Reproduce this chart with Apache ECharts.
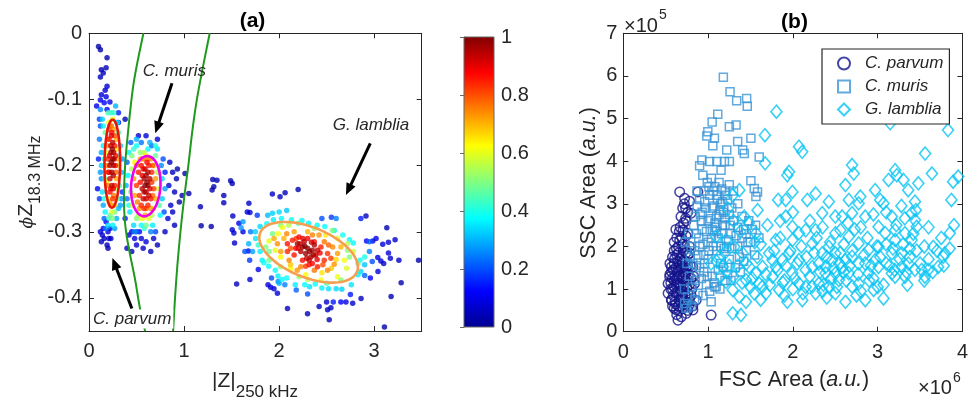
<!DOCTYPE html>
<html><head><meta charset="utf-8">
<script src="https://cdn.jsdelivr.net/npm/echarts@6.0.0/dist/echarts.min.js"></script>
<style>html,body{margin:0;padding:0;background:#fff}#c{width:971px;height:404px}</style>
</head><body><div id="c"></div>
<script>
// ---------- Panel (a) data: [|Z| 250kHz, phiZ 18.3MHz, normalized density] ----------
const parvumPts = [
[0.23,-0.18,0.96],[0.25,-0.19,0.97],[0.22,-0.2,0.95],[0.24,-0.21,0.96],[0.26,-0.2,0.94],[0.23,-0.17,0.93],[0.25,-0.165,0.94],[0.22,-0.22,0.92],[0.24,-0.23,0.93],[0.26,-0.18,0.95],
[0.21,-0.16,0.86],[0.27,-0.17,0.85],[0.2,-0.19,0.84],[0.28,-0.2,0.85],[0.22,-0.24,0.86],[0.27,-0.23,0.84],[0.24,-0.15,0.87],[0.25,-0.25,0.83],[0.21,-0.21,0.88],[0.28,-0.185,0.86],
[0.22,-0.14,0.74],[0.26,-0.145,0.72],[0.19,-0.17,0.73],[0.29,-0.16,0.7],[0.2,-0.23,0.75],[0.29,-0.22,0.71],[0.23,-0.26,0.72],[0.26,-0.245,0.76],[0.19,-0.2,0.74],[0.3,-0.19,0.7],
[0.21,-0.135,0.62],[0.25,-0.13,0.6],[0.18,-0.18,0.61],[0.31,-0.2,0.58],[0.2,-0.25,0.63],[0.28,-0.25,0.6],[0.24,-0.27,0.59],
[0.17,-0.15,0.48],[0.31,-0.15,0.46],[0.17,-0.22,0.5],[0.32,-0.23,0.44],[0.22,-0.275,0.47],[0.27,-0.27,0.5],[0.2,-0.12,0.45],[0.26,-0.12,0.43],
[0.14,-0.13,0.33],[0.28,-0.11,0.3],[0.15,-0.17,0.36],[0.33,-0.17,0.32],[0.13,-0.2,0.34],[0.34,-0.21,0.3],[0.14,-0.24,0.35],[0.33,-0.26,0.28],[0.17,-0.27,0.37],[0.29,-0.28,0.3],[0.2,-0.29,0.34],[0.25,-0.29,0.36],[0.12,-0.115,0.26],[0.11,-0.16,0.25],[0.15,-0.26,0.29],[0.31,-0.265,0.31],[0.13,-0.22,0.27],
[0.09,-0.235,0.12],[0.12,-0.14,0.2],[0.11,-0.25,0.18],[0.16,-0.28,0.22],[0.31,-0.12,0.15],[0.35,-0.24,0.17],
[0.1,-0.02,0.03],[0.12,-0.025,0.03],[0.19,-0.037,0.04],[0.13,-0.055,0.04],[0.18,-0.052,0.05],[0.12,-0.066,0.05],[0.15,-0.06,0.05],[0.17,-0.086,0.07],[0.19,-0.08,0.07],[0.13,-0.093,0.08],[0.18,-0.096,0.09],[0.12,-0.101,0.1],[0.22,-0.104,0.1],[0.08,-0.11,0.1],[0.16,-0.105,0.12],[0.19,-0.115,0.13],[0.38,-0.13,0.04],[0.31,-0.135,0.1],
[0.12,-0.3,0.08],[0.14,-0.305,0.07],[0.16,-0.31,0.06],[0.2,-0.3,0.09],[0.22,-0.295,0.1],[0.13,-0.315,0.05],[0.19,-0.32,0.05],[0.23,-0.31,0.06],[0.18,-0.285,0.12],[0.21,-0.31,0.07],[0.15,-0.295,0.1],[0.2,-0.325,0.04],
[0.235,-0.155,0.9],[0.245,-0.175,0.97],[0.235,-0.195,0.98],[0.255,-0.215,0.95],[0.215,-0.185,0.9],[0.265,-0.19,0.92],[0.23,-0.235,0.88],[0.255,-0.235,0.9],[0.21,-0.145,0.78],[0.27,-0.155,0.8],[0.2,-0.21,0.8],[0.285,-0.21,0.78],[0.215,-0.255,0.7],[0.265,-0.26,0.68],[0.235,-0.14,0.76],[0.195,-0.16,0.66],[0.29,-0.175,0.65],[0.185,-0.225,0.6],[0.295,-0.235,0.55],[0.245,-0.28,0.5],[0.16,-0.19,0.42],[0.32,-0.185,0.4],[0.16,-0.25,0.4],[0.3,-0.25,0.45],[0.21,-0.28,0.42],[0.23,-0.12,0.4],[0.3,-0.135,0.35],[0.15,-0.14,0.38],[0.13,-0.18,0.3],[0.12,-0.21,0.28],[0.35,-0.19,0.28],[0.34,-0.25,0.27],[0.18,-0.295,0.25],[0.27,-0.295,0.28],[0.11,-0.13,0.18],[0.1,-0.19,0.15]
];
const murisPts = [
[0.58,-0.22,0.96],[0.62,-0.23,0.97],[0.6,-0.24,0.95],[0.56,-0.235,0.93],[0.64,-0.22,0.94],[0.6,-0.215,0.96],[0.63,-0.245,0.92],[0.57,-0.25,0.91],[0.61,-0.225,0.98],[0.59,-0.205,0.92],
[0.52,-0.21,0.85],[0.66,-0.21,0.84],[0.55,-0.2,0.86],[0.65,-0.25,0.85],[0.53,-0.245,0.83],[0.62,-0.26,0.84],[0.68,-0.235,0.82],[0.5,-0.23,0.82],[0.58,-0.265,0.83],[0.61,-0.195,0.87],[0.55,-0.26,0.84],[0.67,-0.2,0.8],
[0.5,-0.2,0.74],[0.57,-0.19,0.76],[0.65,-0.19,0.73],[0.7,-0.22,0.72],[0.48,-0.245,0.71],[0.7,-0.25,0.7],[0.53,-0.265,0.73],[0.65,-0.265,0.72],[0.59,-0.275,0.7],[0.47,-0.22,0.72],
[0.48,-0.195,0.62],[0.6,-0.185,0.63],[0.69,-0.2,0.61],[0.73,-0.235,0.58],[0.46,-0.26,0.6],[0.68,-0.265,0.6],[0.56,-0.28,0.62],[0.63,-0.28,0.59],
[0.45,-0.185,0.5],[0.54,-0.18,0.52],[0.7,-0.185,0.48],[0.74,-0.21,0.47],[0.44,-0.24,0.49],[0.74,-0.26,0.46],[0.5,-0.28,0.5],[0.6,-0.29,0.48],
[0.42,-0.18,0.36],[0.5,-0.17,0.38],[0.62,-0.175,0.37],[0.72,-0.175,0.35],[0.77,-0.22,0.34],[0.41,-0.215,0.36],[0.43,-0.27,0.35],[0.77,-0.25,0.33],[0.55,-0.29,0.38],[0.67,-0.29,0.36],[0.47,-0.29,0.34],
[0.44,-0.165,0.22],[0.55,-0.165,0.24],[0.66,-0.17,0.23],[0.78,-0.19,0.2],[0.4,-0.195,0.22],[0.4,-0.25,0.24],[0.79,-0.27,0.2],[0.5,-0.3,0.21],[0.7,-0.3,0.19],[0.76,-0.2,0.26],
[0.52,-0.155,0.07],[0.6,-0.155,0.08],[0.72,-0.16,0.07],[0.88,-0.21,0.05],[0.9,-0.24,0.05],[0.92,-0.22,0.04],[0.84,-0.23,0.08],[0.86,-0.26,0.07],[0.88,-0.27,0.06],[0.83,-0.28,0.08],[0.9,-0.29,0.05],[0.45,-0.3,0.1],[0.48,-0.31,0.09],[0.5,-0.32,0.07],[0.55,-0.31,0.08],[0.6,-0.315,0.08],[0.65,-0.33,0.05],[0.45,-0.33,0.05],[0.4,-0.325,0.06],[0.53,-0.3,0.12],[0.68,-0.31,0.07],[0.72,-0.32,0.05],[0.42,-0.305,0.08],[0.57,-0.325,0.06],[0.8,-0.3,0.06],[0.93,-0.205,0.04],[0.95,-0.255,0.03],[0.85,-0.195,0.06],[0.98,-0.245,0.03],[1.01,-0.212,0.03],[1.05,-0.242,0.03],
[0.59,-0.23,0.99],[0.6,-0.25,0.93],[0.62,-0.21,0.95],[0.56,-0.215,0.9],[0.64,-0.235,0.9],[0.58,-0.24,0.95],[0.54,-0.225,0.86],[0.66,-0.225,0.83],[0.57,-0.205,0.88],[0.63,-0.2,0.85],[0.51,-0.255,0.75],[0.67,-0.245,0.77],[0.54,-0.19,0.7],[0.62,-0.19,0.74],[0.6,-0.265,0.78],[0.45,-0.205,0.55],[0.72,-0.21,0.56],[0.52,-0.275,0.55],[0.66,-0.275,0.55],[0.58,-0.18,0.55],[0.47,-0.175,0.42],[0.7,-0.17,0.4],[0.42,-0.26,0.4],[0.75,-0.275,0.38],[0.58,-0.295,0.42],[0.64,-0.165,0.3],[0.5,-0.16,0.3],[0.39,-0.23,0.3],[0.8,-0.235,0.28],[0.48,-0.3,0.25],[0.65,-0.3,0.25],[0.8,-0.21,0.15],[0.38,-0.28,0.15]
];
const lambliaPts = [
[2.193,-0.318,0.96],[2.246,-0.323,0.97],[2.3,-0.325,0.98],[2.35,-0.328,0.96],[2.28,-0.333,0.97],[2.334,-0.338,0.95],[2.386,-0.335,0.94],[2.228,-0.33,0.95],[2.316,-0.343,0.93],[2.404,-0.328,0.93],[2.264,-0.315,0.94],[2.37,-0.32,0.95],
[2.087,-0.318,0.86],[2.14,-0.313,0.85],[2.21,-0.308,0.87],[2.3,-0.31,0.88],[2.37,-0.315,0.86],[2.44,-0.323,0.85],[2.51,-0.333,0.83],[2.475,-0.343,0.84],[2.404,-0.353,0.85],[2.316,-0.35,0.86],[2.246,-0.343,0.87],[2.158,-0.335,0.86],[2.087,-0.33,0.84],[2.175,-0.325,0.88],[2.545,-0.34,0.82],[2.35,-0.348,0.87],
[1.982,-0.318,0.73],[1.947,-0.31,0.71],[2.08,-0.303,0.74],[2.158,-0.3,0.72],[2.35,-0.305,0.75],[2.42,-0.305,0.73],[2.563,-0.323,0.74],[2.615,-0.333,0.72],[2.58,-0.349,0.73],[2.51,-0.358,0.74],[2.37,-0.358,0.76],[2.228,-0.353,0.75],[2.105,-0.343,0.74],[2.017,-0.33,0.72],[2.19,-0.358,0.73],[2.475,-0.315,0.76],[2.65,-0.323,0.7],
[2.035,-0.2935,0.61],[1.894,-0.314,0.6],[1.99,-0.303,0.62],[2.615,-0.31,0.6],[2.686,-0.343,0.61],[2.71,-0.355,0.59],[2.615,-0.368,0.61],[2.44,-0.373,0.62],[2.28,-0.365,0.63],[2.12,-0.356,0.62],[2.017,-0.338,0.63],[2.49,-0.305,0.64],[2.78,-0.33,0.58],
[1.86,-0.323,0.5],[1.894,-0.33,0.49],[2.72,-0.328,0.51],[2.74,-0.338,0.5],[2.83,-0.348,0.47],[2.65,-0.373,0.5],[2.21,-0.368,0.52],[2.017,-0.353,0.51],[1.894,-0.343,0.48],[1.93,-0.303,0.49],[2.017,-0.29,0.5],[2.37,-0.295,0.52],[2.56,-0.298,0.5],
[1.753,-0.31,0.35],[1.822,-0.343,0.36],[1.84,-0.347,0.38],[1.89,-0.352,0.37],[1.96,-0.358,0.38],[1.988,-0.367,0.36],[2.03,-0.372,0.37],[2.08,-0.37,0.38],[2.17,-0.38,0.36],[2.27,-0.38,0.37],[2.32,-0.383,0.35],[2.38,-0.379,0.38],[2.45,-0.385,0.36],[2.52,-0.386,0.35],[2.6,-0.386,0.34],[2.66,-0.387,0.33],[2.76,-0.38,0.35],[2.83,-0.365,0.36],[2.86,-0.36,0.34],[2.9,-0.35,0.32],[2.85,-0.343,0.38],[2.78,-0.317,0.37],[2.74,-0.312,0.38],[2.67,-0.305,0.39],[2.58,-0.298,0.36],[2.48,-0.292,0.38],[2.4,-0.29,0.37],[2.31,-0.287,0.36],[2.24,-0.283,0.37],[2.13,-0.282,0.38],[2.025,-0.28,0.37],[1.94,-0.282,0.36],[1.87,-0.288,0.38],[1.8,-0.292,0.34],[1.75,-0.3,0.33],[1.68,-0.318,0.3],[1.8,-0.33,0.36],[1.93,-0.272,0.33],[2.0,-0.27,0.34],[2.08,-0.268,0.32],[1.88,-0.275,0.31],[1.62,-0.285,0.28],[1.6,-0.294,0.27],
[2.45,-0.28,0.2],[2.55,-0.278,0.18],[2.86,-0.28,0.15],[2.9,-0.366,0.22],[2.65,-0.406,0.12],[2.57,-0.406,0.15],[2.3,-0.394,0.2],[2.18,-0.388,0.22],[2.06,-0.38,0.25],[1.99,-0.375,0.26],[1.92,-0.37,0.2],[1.69,-0.343,0.18],[1.64,-0.33,0.2],[1.7,-0.3,0.24],[1.77,-0.275,0.18],[2.95,-0.33,0.25],[2.98,-0.345,0.2],[2.75,-0.395,0.15],
[2.27,-0.322,0.99],[2.32,-0.33,0.98],[2.36,-0.335,0.96],[2.22,-0.318,0.93],[2.29,-0.34,0.94],[2.4,-0.342,0.9],[2.25,-0.31,0.9],[2.34,-0.316,0.92],[2.2,-0.325,0.9],[2.43,-0.332,0.88],[2.12,-0.325,0.8],[2.18,-0.31,0.82],[2.46,-0.35,0.8],[2.28,-0.352,0.82],[2.52,-0.32,0.78],[2.05,-0.31,0.7],[2.12,-0.35,0.68],[2.55,-0.355,0.68],[2.6,-0.342,0.66],[2.3,-0.3,0.7],[2.45,-0.362,0.65],[1.96,-0.328,0.6],[2.72,-0.318,0.55],[2.3,-0.372,0.55],[2.1,-0.29,0.55],[1.78,-0.32,0.42],[2.9,-0.338,0.4],[2.5,-0.378,0.45],[2.2,-0.287,0.45],[1.72,-0.33,0.28],[2.95,-0.315,0.22],[2.6,-0.28,0.25],[2.0,-0.378,0.3]
];
const sparsePts = [
[1.302,-0.221,0.04],[1.346,-0.222,0.04],[1.49,-0.223,0.04],[1.507,-0.227,0.04],[1.313,-0.232,0.04],[1.295,-0.237,0.04],[1.418,-0.245,0.04],[1.418,-0.256,0.05],[1.172,-0.262,0.04],[1.18,-0.291,0.03],[1.286,-0.292,0.03],
[1.929,-0.243,0.06],[2.01,-0.247,0.06],[2.063,-0.241,0.05],[2.2,-0.236,0.04],[1.682,-0.257,0.06],[1.665,-0.27,0.08],[1.693,-0.271,0.08],[1.513,-0.276,0.06],[1.507,-0.297,0.07],[1.524,-0.302,0.08],[1.531,-0.317,0.07],
[1.553,-0.379,0.05],[1.693,-0.372,0.07],[1.781,-0.357,0.1],[1.883,-0.38,0.09],[1.911,-0.384,0.09],[1.946,-0.386,0.09],[1.982,-0.393,0.08],[2.088,-0.416,0.05],[2.299,-0.424,0.04],[2.421,-0.413,0.06],[2.499,-0.406,0.07],[2.51,-0.418,0.06],[2.545,-0.415,0.05],[2.527,-0.433,0.04],[2.703,-0.406,0.08],[2.774,-0.408,0.07],[2.862,-0.401,0.06],
[2.914,-0.276,0.05],[3.108,-0.444,0.03],[3.178,-0.398,0.04],[3.284,-0.377,0.04],[3.467,-0.343,0.03],[3.133,-0.294,0.04],
[2.92,-0.314,0.12],[2.985,-0.314,0.1],[3.02,-0.31,0.1],[3.09,-0.319,0.08],[3.15,-0.316,0.08],[3.22,-0.312,0.07],[3.038,-0.339,0.09],[3.07,-0.344,0.08],[3.1,-0.348,0.07],[3.17,-0.34,0.07],[3.26,-0.343,0.06],[3.04,-0.36,0.09],[2.96,-0.37,0.12],[3.15,-0.332,0.08],
[1.577,-0.287,0.1],[1.62,-0.3,0.09],[1.676,-0.329,0.1]
];
// green separation curves [x, y]
const greenLeft = [[0.573,0],[0.47,-0.075],[0.41,-0.15],[0.38,-0.2],[0.368,-0.25],[0.375,-0.28],[0.395,-0.305],[0.43,-0.333],[0.486,-0.373],[0.535,-0.415],[0.59,-0.45]];
const greenRight = [[1.27,0],[1.2,-0.05],[1.135,-0.1],[1.085,-0.15],[1.045,-0.2],[1.0,-0.25],[0.962,-0.3],[0.93,-0.35],[0.905,-0.4],[0.885,-0.45]];
// ellipses: [cx, cy, axis1 dx, axis1 dy, axis2 dx, axis2 dy]
const ellipseParams = [
[0.245,-0.197,0.004,0.0666,0.082,0],
[0.597,-0.231,0.026,0.0454,0.153,-0.003],
[2.31,-0.331,0.509,-0.0295,-0.099,-0.0351]
];
const ellipseColors = ['#e8150a','#ee00ee','#f5a050'];
// arrows: [tail x, tail y, head x, head y]
const arrows = [[0.873,-0.0756,0.697,-0.151],[2.959,-0.1664,2.703,-0.2446],[0.451,-0.416,0.246,-0.3395]];
const annotPos = [[0.898,-0.058],[2.967,-0.139],[0.454,-0.432]];
const annotText = ['C. muris','G. lamblia','C. parvum'];
const aXTicks = [0,1,2,3];
const aYTicks = [0,-0.1,-0.2,-0.3,-0.4];

// ---------- Panel (b) data: [FSC x1e6, SSC x1e5] ----------
const bParvum = [[0.665,3.28],[0.723,3.13],[0.782,3.06],[0.735,2.89],[0.735,2.66],[0.704,2.38],[0.665,2.15],[0.626,1.95],[0.606,1.72],[0.567,1.52],[0.547,1.29],[0.528,1.13],[0.528,0.9],[0.567,0.74],[0.626,0.51],[0.645,0.27],[0.684,0.35],[0.743,0.43],[1.036,0.39],[0.821,0.51],[0.88,3.28],[0.8,2.78],[0.762,2.31],[0.782,1.84],[0.821,1.52],[0.84,1.13],[0.86,0.74],[0.58,1.0],[0.6,1.2],[0.62,0.9],[0.64,1.4],[0.66,1.1],[0.68,0.8],[0.7,1.3],[0.72,1.0],[0.74,1.5],[0.6,1.6],[0.63,1.8],[0.67,1.7],[0.71,1.9],[0.65,2.0],[0.69,2.2],[0.73,1.2],[0.76,0.9],[0.78,1.1],[0.57,1.4],[0.61,0.7],[0.65,0.6],[0.7,0.55],[0.75,0.7],[0.8,0.85],[0.77,1.35],[0.62,1.1],[0.66,1.3],[0.59,0.85],[0.73,1.65],[0.68,1.5],[0.63,0.4],[0.69,0.95],[0.8,1.25],[0.82,0.6],[0.74,2.6],[0.71,2.55],[0.68,2.7],[0.56,1.15],[0.6,0.55],[0.55,1.6],[0.58,1.75],[0.62,1.5],[0.66,0.75],[0.7,0.7],[0.64,1.15],[0.67,0.95],[0.71,1.1],[0.75,1.05],[0.72,1.4],[0.69,1.6],[0.76,1.8],[0.78,2.0],[0.58,1.25],[0.6,1.05],[0.63,1.25],[0.65,1.45],[0.69,1.25],[0.73,0.85],[0.77,0.6],[0.66,2.35],[0.7,2.05],[0.6,2.1],[0.74,2.25],
[0.56,1.0],[0.57,0.75],[0.59,1.45],[0.61,1.3],[0.62,0.65],[0.63,2.2],[0.64,1.65],[0.64,0.95],[0.65,1.85],[0.66,0.5],[0.67,1.55],[0.67,2.45],[0.68,1.05],[0.69,1.75],[0.7,0.85],[0.71,1.5],[0.72,2.0],[0.72,0.65],[0.73,1.35],[0.74,1.85],[0.75,1.25],[0.76,1.55],[0.76,0.5],[0.78,0.75],[0.79,1.55],[0.81,1.0],[0.83,1.3],[0.55,1.35],[0.58,0.6],[0.6,1.9],[0.62,2.4],[0.7,2.9],[0.72,3.0],[0.76,2.8]];
const bMuris = [[1.18,5.97],[1.259,5.63],[1.337,5.42],[1.455,5.47],[1.462,5.29],[1.114,5.1],[1.048,4.92],[0.997,4.69],[0.985,4.59],[1.251,4.81],[1.33,4.85],[1.075,4.54],[1.056,4.36],[1.349,4.46],[1.408,4.26],[1.505,4.54],[1.427,4.18],[1.22,4.26],[1.603,4.1],[0.927,4.03],[0.9,3.89],[1.017,3.99],[1.103,3.99],[1.193,3.99],[1.251,3.99],[1.153,3.79],[0.938,3.67],[1.505,3.54],[1.544,3.36],[1.583,3.28],[1.564,3.17],[1.036,0.7],[1.095,1.06],[0.723,0.66],
[0.9,1.5],[0.95,1.8],[1.0,2.1],[1.05,2.4],[1.1,2.7],[1.15,3.0],[1.2,3.3],[0.92,2.6],[0.97,2.9],[1.02,3.2],[1.08,3.4],[1.12,2.2],[1.17,2.5],[1.22,2.0],[1.27,2.3],[1.3,2.6],[1.25,1.7],[1.35,2.0],[1.4,2.2],[1.45,1.9],[0.85,1.2],[0.88,0.9],[0.82,1.6],[0.8,2.0],[0.78,1.3],[0.76,0.8],[0.74,0.55],[0.8,0.6],[0.86,2.3],[0.9,2.0],[0.95,1.4],[1.0,1.7],[1.05,1.3],[1.1,1.9],[1.15,1.6],[1.2,1.2],[1.0,2.6],[1.05,2.9],[1.1,3.2],[1.13,3.5],[1.18,2.8],[1.23,3.1],[1.28,2.9],[0.95,3.3],[0.9,3.1],[0.85,2.7],[1.32,1.5],[1.38,1.4],[1.42,2.4],[1.5,2.1],[1.55,1.8],[1.6,2.2],[0.98,1.1],[1.02,0.95],[1.08,1.05],[1.14,1.0],[0.93,2.4],[1.06,2.0],[0.88,1.8],[1.3,3.3],[1.25,3.45],[1.16,3.35],[0.72,1.0],[0.75,1.6],[0.73,2.1],[0.83,2.5],[0.99,3.5],[1.04,3.6],[0.87,3.3],[0.93,2.8],[1.08,2.55],[1.14,2.85],[1.2,2.65],[1.26,2.5],[1.35,2.45],[1.45,2.3],[1.52,2.4],
[0.92,1.25],[0.96,1.6],[1.01,1.9],[1.04,2.2],[1.09,2.45],[1.13,2.75],[1.17,3.05],[1.21,3.2],[0.89,2.2],[0.94,2.05],[0.98,2.35],[1.03,2.65],[1.07,2.95],[1.11,3.1],[1.16,2.3],[1.19,1.95],[1.24,2.15],[1.28,1.95],[1.33,2.25],[1.37,1.75],[1.42,1.65],[1.47,2.1],[0.86,1.55],[0.84,1.9],[0.87,2.95],[0.91,2.75],[0.96,3.05],[1.01,3.4],[1.06,3.3],[1.12,1.45],[1.07,1.15],[1.18,1.5],[1.23,1.35],[1.27,1.2],[0.94,0.85],[0.99,1.3],[0.81,1.05],[0.79,1.75],[0.77,2.3],[0.84,0.75],[1.2,2.5],[1.15,2.0],[1.1,2.35],[1.25,2.75],[1.35,3.0],[1.4,2.7],[1.48,2.6],[1.56,2.5]];
const bLamblia = [[1.806,5.16],[1.67,4.61],[2.072,4.34],[2.11,4.22],[1.673,3.95],[1.955,3.75],[1.935,3.67],[2.698,3.91],[2.718,3.71],[2.62,3.44],[3.148,4.89],[3.83,4.73],[3.56,4.18],[3.64,3.71],[3.95,3.64],[3.89,3.52],[3.48,3.48],[3.36,3.32],[3.206,3.79],[3.226,3.67],[3.128,3.56],[3.304,3.56],[2.97,3.32],[2.796,3.17],[3.03,3.09],[3.069,3.01],[3.44,3.05],[3.87,3.09],[3.32,2.66],[3.44,2.62],[3.46,2.46],[3.4,2.78],[2.424,3.05],[2.268,3.24],[2.17,3.09],[1.994,3.28],[1.916,3.09],[1.826,3.09],[1.584,2.85],[1.427,2.7],[1.564,2.31],[1.369,3.32],[1.29,3.2],[1.232,2.89],[1.095,2.23],[1.134,1.76],[1.036,1.6],[1.173,1.52],[1.212,1.17],[1.29,0.98],[1.369,0.82],[1.29,0.43],[1.388,0.39],[1.447,0.7],[1.544,0.9],[1.642,1.06],[1.76,1.29],[1.838,0.98],[1.935,0.7],[2.111,0.74],[2.268,0.9],[2.307,1.13],[2.502,1.37],[2.62,0.7],[2.854,0.74],[3.069,0.78],[2.952,0.98],[2.698,1.06],[2.502,0.9],[2.424,1.99],[2.502,2.31],[2.561,2.38],[2.659,2.23],[2.776,2.07],[2.893,1.92],[3.01,1.99],[3.089,2.31],[3.206,2.15],[3.284,1.84],[3.362,1.6],[3.44,1.45],[3.558,1.29],[3.597,1.45],[3.656,1.99],[3.773,1.76],[3.851,2.31],[3.792,1.84],[3.519,1.45],[3.167,1.37],[3.206,1.29],[3.323,1.29],[3.011,1.52],[2.854,1.6],[2.698,1.76],[2.58,1.52],[2.463,1.68],[2.346,1.84],[2.229,2.07],[2.151,2.38],[2.072,2.31],[1.994,2.46],[1.916,2.7],[1.799,2.15],[1.72,1.84],[1.642,1.52],[1.564,1.37],[1.486,1.52],[1.408,1.84],[1.31,1.99],[1.212,2.15],[1.447,1.21],[1.603,1.13],[1.681,0.9],[1.799,1.52],[1.994,1.37],[2.072,1.13],[2.151,1.45],[2.229,1.06],[2.385,1.37],[2.424,1.06],[2.541,1.21],[2.659,1.37],[2.776,1.13],[2.893,1.37],[2.971,1.68],[2.776,1.6],[2.62,1.68],[2.502,1.84],[2.385,1.52],[2.307,1.6],[2.229,1.52],[2.072,1.68],[1.955,1.84],[1.877,1.68],[1.76,1.68],[1.994,2.15],[2.698,2.78],[2.776,3.01],[2.854,2.7],[2.659,3.09],[2.58,2.7],[2.346,2.78],[2.268,2.38],[3.01,2.46],[3.167,2.7],[3.323,2.31],[3.401,2.15],[3.206,2.38],[3.714,1.52],[3.284,1.52],[3.167,1.84],[1.3,1.3],[1.5,1.05],[1.9,1.2],[2.45,1.25],[2.55,1.6],[2.9,1.2],[3.1,1.6],[3.38,1.95],[2.0,1.0],[2.35,0.95],
[1.45,1.6],[1.52,1.25],[1.58,1.75],[1.62,2.05],[1.68,1.35],[1.73,1.1],[1.78,1.9],[1.82,1.45],[1.85,2.2],[1.88,1.15],[1.92,1.55],[1.97,1.9],[2.02,1.25],[2.05,1.6],[2.1,2.0],[2.12,0.9],[2.16,1.75],[2.2,1.3],[2.25,1.85],[2.28,2.2],[2.32,1.4],[2.36,1.1],[2.4,1.75],[2.44,2.1],[2.48,1.5],[2.52,1.05],[2.56,1.85],[2.6,2.05],[2.63,1.2],[2.67,1.55],[2.7,1.9],[2.73,2.4],[2.77,1.35],[2.8,0.95],[2.84,1.8],[2.88,2.2],[2.92,1.55],[2.95,1.25],[2.99,2.0],[3.03,1.75],[3.07,1.1],[3.1,2.05],[3.14,1.55],[3.18,1.95],[3.22,2.5],[3.26,1.7],[3.3,2.05],[3.34,1.4],[3.38,1.75],[3.42,2.3],[3.46,1.9],[3.5,1.6],[3.55,2.0],[3.6,1.7],[3.65,1.4],[3.7,1.9],[3.78,1.55],[3.85,1.95],[1.35,1.55],[1.4,1.15],[1.38,2.35],[1.25,1.55],[1.2,1.85],[1.15,1.3],[1.1,1.65],[1.3,2.6],[1.48,2.55],[1.55,2.1],[1.7,2.5],[1.85,2.6],[2.0,2.8],[2.2,2.6],[2.35,2.45],[2.5,2.7],[2.65,2.55],[2.8,2.45],[2.95,2.75],[3.1,2.8],[3.28,2.95],[3.45,2.85],[3.6,2.45],[3.75,2.2],[3.9,2.5],[1.9,0.85],[2.4,0.8],[2.75,0.85],[3.0,1.05],[3.35,1.1],[3.55,1.2],[1.62,0.75],[2.15,1.05],[2.6,1.4],[3.2,1.45]];
const bXTicks = [0,1,2,3,4];
const bYTicks = [0,1,2,3,4,5,6,7];

// ---------- rendering ----------
const FONT = "'Liberation Sans', Arial, Helvetica, sans-serif";
const TXT = '#262626';
const JET = ['#00008f','#0000ff','#0080ff','#00ffff','#80ff80','#ffff00','#ff8000','#ff0000','#800000'];
const C_PARVUM = '#14148c', C_MURIS = '#3a95d6', C_LAMBLIA = '#08c4f4';

const aAll = parvumPts.concat(murisPts, lambliaPts, sparsePts).slice().sort((p, q) => p[2] - q[2]);

function boxAxis(extra) {
  return Object.assign({
    type: 'value',
    axisLine: {show: true, onZero: false, lineStyle: {color: TXT, width: 1}},
    axisTick: {show: true, inside: true, length: 5, lineStyle: {color: TXT, width: 1}},
    splitLine: {show: false},
    axisLabel: {show: true, color: TXT, fontSize: 20, fontFamily: FONT},
    name: ''
  }, extra);
}
function mirror(base, pos) {
  const o = JSON.parse(JSON.stringify(base));
  o.position = pos;
  o.axisLabel = Object.assign({}, o.axisLabel, {show: false});
  return o;
}

const axA = boxAxis({gridIndex: 0, min: 0, max: 3.5, position: 'bottom',
  axisLabel: {color: TXT, fontSize: 20, fontFamily: FONT, margin: 10, customValues: aXTicks},
  axisTick: {inside: true, length: 5, lineStyle: {color: TXT}, customValues: aXTicks}});
const ayA = boxAxis({gridIndex: 0, min: -0.45, max: 0, position: 'left',
  axisLabel: {color: TXT, fontSize: 20, fontFamily: FONT, margin: 7, customValues: aYTicks},
  axisTick: {inside: true, length: 5, lineStyle: {color: TXT}, customValues: aYTicks}});
const axB = boxAxis({gridIndex: 1, min: 0, max: 4, interval: 1, position: 'bottom',
  axisLabel: {color: TXT, fontSize: 20, fontFamily: FONT, margin: 11, customValues: bXTicks},
  axisTick: {inside: true, length: 5, lineStyle: {color: TXT}, customValues: bXTicks}});
const ayB = boxAxis({gridIndex: 1, min: 0, max: 7, interval: 1, position: 'left',
  axisLabel: {color: TXT, fontSize: 20, fontFamily: FONT, margin: 6, customValues: bYTicks},
  axisTick: {inside: true, length: 5, lineStyle: {color: TXT}, customValues: bYTicks}});

const option = {
  animation: false,
  backgroundColor: '#fff',
  grid: [
    {left: 89, top: 33.3, width: 332.7, height: 297.7},
    {left: 623.3, top: 33.3, width: 341, height: 298.4},
    {left: 464, top: 37, width: 30, height: 290}
  ],
  xAxis: [axA, mirror(axA, 'top'), axB, mirror(axB, 'top'),
    {type: 'value', gridIndex: 2, min: 0, max: 1, show: false}],
  yAxis: [ayA, mirror(ayA, 'right'), ayB, mirror(ayB, 'right'),
    {type: 'value', gridIndex: 2, min: 0, max: 1, interval: 0.2, position: 'right',
     axisLine: {show: true, lineStyle: {color: '#666', width: 1}},
     axisTick: {show: true, inside: true, length: 4, lineStyle: {color: '#666'}},
     splitLine: {show: false},
     axisLabel: {color: TXT, fontSize: 20, fontFamily: FONT, margin: 7}}],
  visualMap: [{type: 'continuous', show: false, seriesIndex: 0, dimension: 2, min: 0, max: 1, inRange: {color: JET}}],
  legend: {
    orient: 'vertical', left: 822, top: 49, padding: [6, 6, 6, 15], itemGap: 6,
    itemWidth: 12, itemHeight: 12, borderColor: TXT, borderWidth: 1.2, backgroundColor: '#fff',
    selectedMode: false,
    textStyle: {fontSize: 17, fontStyle: 'italic', color: TXT, fontFamily: FONT, padding: [0, 0, 0, 10]},
    data: [{name: 'C. parvum', icon: 'circle'}, {name: 'C. muris', icon: 'rect'}, {name: 'G. lamblia', icon: 'diamond'}]
  },
  series: [
    {type: 'scatter', xAxisIndex: 0, yAxisIndex: 0, data: aAll, symbolSize: 5.5, z: 2, silent: true},
    {type: 'line', xAxisIndex: 0, yAxisIndex: 0, data: greenLeft, smooth: 0.3, showSymbol: false, symbol: 'none',
     lineStyle: {color: '#1f9a1f', width: 2}, z: 3, silent: true},
    {type: 'line', xAxisIndex: 0, yAxisIndex: 0, data: greenRight, smooth: 0.3, showSymbol: false, symbol: 'none',
     lineStyle: {color: '#1f9a1f', width: 2}, z: 3, silent: true},
    {type: 'custom', xAxisIndex: 0, yAxisIndex: 0, data: ellipseParams, z: 4, silent: true,
     encode: {x: 0, y: 1},
     renderItem: function (params, api) {
       const v = [0,1,2,3,4,5].map(i => api.value(i));
       const pts = [];
       for (let k = 0; k <= 96; k++) {
         const t = 2 * Math.PI * k / 96;
         pts.push(api.coord([v[0] + v[2] * Math.cos(t) + v[4] * Math.sin(t), v[1] + v[3] * Math.cos(t) + v[5] * Math.sin(t)]));
       }
       return {type: 'polyline', shape: {points: pts}, style: {fill: 'none', stroke: ellipseColors[params.dataIndex], lineWidth: 2.6}};
     }},
    {type: 'custom', xAxisIndex: 0, yAxisIndex: 0, data: arrows, z: 5, silent: true,
     encode: {x: [0, 2], y: [1, 3]},
     renderItem: function (params, api) {
       const p1 = api.coord([api.value(0), api.value(1)]);
       const p2 = api.coord([api.value(2), api.value(3)]);
       const dx = p2[0] - p1[0], dy = p2[1] - p1[1];
       const L = Math.sqrt(dx * dx + dy * dy), ux = dx / L, uy = dy / L;
       const hl = 12, hw = 5;
       const bx = p2[0] - ux * hl, by = p2[1] - uy * hl;
       return {type: 'group', children: [
         {type: 'line', shape: {x1: p1[0], y1: p1[1], x2: bx + ux * 2, y2: by + uy * 2}, style: {stroke: '#000', lineWidth: 3}},
         {type: 'polygon', shape: {points: [[p2[0], p2[1]], [bx - uy * hw, by + ux * hw], [bx + uy * hw, by - ux * hw]]}, style: {fill: '#000'}}
       ]};
     }},
    {type: 'custom', xAxisIndex: 0, yAxisIndex: 0, data: annotPos, z: 6, silent: true,
     encode: {x: 0, y: 1},
     renderItem: function (params, api) {
       const p = api.coord([api.value(0), api.value(1)]);
       const i = params.dataIndex;
       return {type: 'text', x: p[0], y: p[1], style: {
         text: annotText[i], fontSize: 17, fontStyle: 'italic', fontFamily: FONT, fill: TXT,
         align: 'center', verticalAlign: 'middle',
         backgroundColor: i === 2 ? '#fff' : 'transparent', padding: [1, 2, 1, 2]}};
     }},
    {name: 'C. parvum', type: 'scatter', xAxisIndex: 2, yAxisIndex: 2, data: bParvum, symbol: 'circle', symbolSize: 9.5,
     itemStyle: {color: 'transparent', borderColor: C_PARVUM, borderWidth: 1.5}, z: 2, silent: true},
    {name: 'C. muris', type: 'scatter', xAxisIndex: 2, yAxisIndex: 2, data: bMuris, symbol: 'rect', symbolSize: 8,
     itemStyle: {color: 'transparent', borderColor: C_MURIS, borderWidth: 1.5}, z: 2, silent: true},
    {name: 'G. lamblia', type: 'scatter', xAxisIndex: 2, yAxisIndex: 2, data: bLamblia, symbol: 'diamond', symbolSize: [11, 13],
     itemStyle: {color: 'transparent', borderColor: C_LAMBLIA, borderWidth: 1.6}, z: 2, silent: true},
    {type: 'custom', xAxisIndex: 4, yAxisIndex: 4, data: [[0, 0, 1, 1]], silent: true, z: 2,
     encode: {x: [0, 2], y: [1, 3]},
     renderItem: function (params, api) {
       const a = api.coord([api.value(0), api.value(1)]);
       const b = api.coord([api.value(2), api.value(3)]);
       const stops = JET.map((c, i) => ({offset: i / (JET.length - 1), color: c}));
       return {type: 'rect', shape: {x: a[0], y: b[1], width: b[0] - a[0], height: a[1] - b[1]},
         style: {fill: new echarts.graphic.LinearGradient(0, 1, 0, 0, stops), stroke: '#666', lineWidth: 1}};
     }}
  ],
  graphic: [
    {type: 'text', x: 252.5, y: 21.7, style: {text: '(a)', fontSize: 21, fontWeight: 'bold', fontFamily: FONT, fill: '#000', align: 'center', verticalAlign: 'middle'}},
    {type: 'text', x: 794.5, y: 22, style: {text: '(b)', fontSize: 21, fontWeight: 'bold', fontFamily: FONT, fill: '#000', align: 'center', verticalAlign: 'middle'}},
    {type: 'text', x: 255, y: 371, style: {text: '{m||Z|}{s|250 kHz}', fill: TXT, align: 'center', verticalAlign: 'top',
      rich: {m: {fontSize: 21, lineHeight: 24, verticalAlign: 'top', fontFamily: FONT, fill: TXT},
             s: {fontSize: 17, lineHeight: 17, padding: [13, 0, 0, 0], verticalAlign: 'top', fontFamily: FONT, fill: TXT}}}},
    {type: 'text', x: 16, y: 182, rotation: Math.PI / 2, style: {text: '{p|ϕ}{m|Z}{s|18.3 MHz}', fill: TXT, align: 'center', verticalAlign: 'top',
      rich: {p: {fontSize: 17, fontStyle: 'italic', lineHeight: 24, verticalAlign: 'top', fontFamily: "'DejaVu Serif', serif", fill: TXT, padding: [3, 0, 0, 0]},
             m: {fontSize: 21, lineHeight: 24, verticalAlign: 'top', fontFamily: FONT, fill: TXT},
             s: {fontSize: 16, lineHeight: 16, padding: [12, 0, 0, 0], verticalAlign: 'top', fontFamily: FONT, fill: TXT}}}},
    {type: 'text', x: 589, y: 183, rotation: Math.PI / 2, style: {text: '{n|SSC Area (}{i|a.u.}{n|)}', fill: TXT, align: 'center', verticalAlign: 'middle',
      rich: {n: {fontSize: 21.5, fontFamily: FONT, fill: TXT}, i: {fontSize: 21.5, fontStyle: 'italic', fontFamily: FONT, fill: TXT}}}},
    {type: 'text', x: 794, y: 380, style: {text: '{n|FSC Area (}{i|a.u.}{n|)}', fill: TXT, align: 'center', verticalAlign: 'middle',
      rich: {n: {fontSize: 21.5, fontFamily: FONT, fill: TXT}, i: {fontSize: 21.5, fontStyle: 'italic', fontFamily: FONT, fill: TXT}}}},
    {type: 'text', x: 624, y: 26, style: {text: '×10', fontSize: 20, fontFamily: FONT, fill: TXT, align: 'left', verticalAlign: 'middle'}},
    {type: 'text', x: 659, y: 15, style: {text: '5', fontSize: 14, fontFamily: FONT, fill: TXT, align: 'left', verticalAlign: 'middle'}},
    {type: 'text', x: 918, y: 388, style: {text: '×10', fontSize: 20, fontFamily: FONT, fill: TXT, align: 'left', verticalAlign: 'middle'}},
    {type: 'text', x: 953, y: 378, style: {text: '6', fontSize: 14, fontFamily: FONT, fill: TXT, align: 'left', verticalAlign: 'middle'}}
  ]
};
const chart = echarts.init(document.getElementById('c'), null, {renderer: 'canvas', width: 971, height: 404});
chart.setOption(option);
</script>
</body></html>
